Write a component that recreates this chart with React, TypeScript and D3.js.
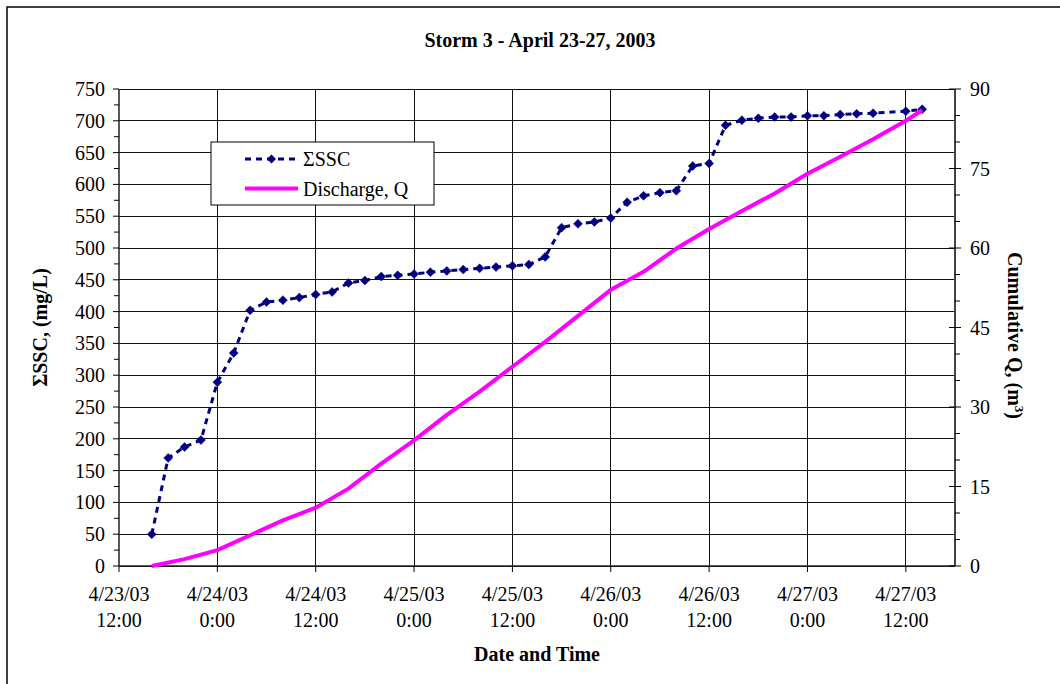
import React from "react";
import * as d3 from "d3";

// ---- Data ----
const sscTimes: string[] = [
  "2003-04-23 16:00", "2003-04-23 18:00", "2003-04-23 20:00", "2003-04-23 22:00",
  "2003-04-24 00:00", "2003-04-24 02:00", "2003-04-24 04:00", "2003-04-24 06:00",
  "2003-04-24 08:00", "2003-04-24 10:00", "2003-04-24 12:00", "2003-04-24 14:00",
  "2003-04-24 16:00", "2003-04-24 18:00", "2003-04-24 20:00", "2003-04-24 22:00",
  "2003-04-25 00:00", "2003-04-25 02:00", "2003-04-25 04:00", "2003-04-25 06:00",
  "2003-04-25 08:00", "2003-04-25 10:00", "2003-04-25 12:00", "2003-04-25 14:00",
  "2003-04-25 16:00", "2003-04-25 18:00", "2003-04-25 20:00", "2003-04-25 22:00",
  "2003-04-26 00:00", "2003-04-26 02:00", "2003-04-26 04:00", "2003-04-26 06:00",
  "2003-04-26 08:00", "2003-04-26 10:00", "2003-04-26 12:00", "2003-04-26 14:00",
  "2003-04-26 16:00", "2003-04-26 18:00", "2003-04-26 20:00", "2003-04-26 22:00",
  "2003-04-27 00:00", "2003-04-27 02:00", "2003-04-27 04:00", "2003-04-27 06:00",
  "2003-04-27 08:00", "2003-04-27 12:00", "2003-04-27 14:00",
];
const sscValues: number[] = [
  50, 170, 187, 198,
  289, 335, 402, 415, 418, 422, 427, 431, 445, 449, 455, 457,
  459, 462, 464, 466, 468, 470, 472, 474, 486, 532, 538, 541,
  547, 572, 582, 587, 590, 629, 633, 693, 701, 704, 706, 706,
  708, 708, 710, 711, 712, 715, 718,
];

const qTimes: string[] = [
  "2003-04-23 16:00", "2003-04-23 20:00",
  "2003-04-24 00:00", "2003-04-24 04:00", "2003-04-24 08:00", "2003-04-24 12:00", "2003-04-24 16:00", "2003-04-24 20:00",
  "2003-04-25 00:00", "2003-04-25 04:00", "2003-04-25 08:00", "2003-04-25 12:00", "2003-04-25 16:00", "2003-04-25 20:00",
  "2003-04-26 00:00", "2003-04-26 04:00", "2003-04-26 08:00", "2003-04-26 12:00", "2003-04-26 16:00", "2003-04-26 20:00",
  "2003-04-27 00:00", "2003-04-27 04:00", "2003-04-27 08:00", "2003-04-27 12:00", "2003-04-27 14:00",
];
const qValues: number[] = [
  0, 1.3,
  3.0, 5.8, 8.6, 11.0, 14.6, 19.3,
  23.7, 28.5, 32.9, 37.6, 42.3, 47.2,
  52.1, 55.5, 59.9, 63.6, 67.0, 70.3,
  74.0, 77.2, 80.5, 84.0, 86.0,
];

const xDomain: string[] = ["2003-04-23 12:00", "2003-04-27 18:00"];
const xTickTimes: string[] = [
  "2003-04-23 12:00", "2003-04-24 00:00", "2003-04-24 12:00", "2003-04-25 00:00",
  "2003-04-25 12:00", "2003-04-26 00:00", "2003-04-26 12:00", "2003-04-27 00:00",
  "2003-04-27 12:00",
];
const leftTicks: number[] = [0, 50, 100, 150, 200, 250, 300, 350, 400, 450, 500, 550, 600, 650, 700, 750];
const rightTicks: number[] = [0, 15, 30, 45, 60, 75, 90];

const title = "Storm 3 - April 23-27, 2003";
const xTitle = "Date and Time";
const yTitle = "ΣSSC, (mg/L)";
const y2Title = "Cumulative Q, (m";
const legendLabels: string[] = ["ΣSSC", "Discharge, Q"];

// ---- Layout ----
const W = 1060;
const H = 684;
const L = 119;
const R = 955;
const T = 89;
const B = 566;
const FONT = "'Liberation Serif', 'Times New Roman', serif";
const NAVY = "#000080";
const PINK = "#FF00FF";

const parse = d3.timeParse("%Y-%m-%d %H:%M");

export default function App() {
  const x = d3.scaleTime().domain(xDomain.map((s) => parse(s) as Date)).range([L, R]);
  const y = d3.scaleLinear().domain([0, 750]).range([B, T]);
  const y2 = d3.scaleLinear().domain([0, 90]).range([B, T]);

  const ssc = sscTimes.map((t, i) => ({ t: parse(t) as Date, v: sscValues[i] }));
  const q = qTimes.map((t, i) => ({ t: parse(t) as Date, v: qValues[i] }));

  const sscLine = d3.line<{ t: Date; v: number }>().x((d) => x(d.t)).y((d) => y(d.v));
  const qLine = d3.line<{ t: Date; v: number }>().x((d) => x(d.t)).y((d) => y2(d.v));

  const xTicks = xTickTimes.map((s) => parse(s) as Date);
  const fDate = d3.timeFormat("%-m/%d/%y");
  const fTime = d3.timeFormat("%-H:%M");

  const leftMinor = d3.range(25, 750, 50);
  const rightMinor = d3.range(0, 91, 5).filter((v) => v % 15 !== 0);

  const diamond = (cx: number, cy: number, r = 4.5) =>
    `M${cx},${cy - r}L${cx + r},${cy}L${cx},${cy + r}L${cx - r},${cy}Z`;

  const lgX1 = 245;
  const lgX2 = 298;
  const lgY1 = 159;
  const lgY2 = 188.5;

  return (
    <svg
      width={W}
      height={H}
      style={{ position: "absolute", left: 0, top: 0, background: "#fff", display: "block" }}
      fontFamily={FONT}
    >
      <rect x={0} y={0} width={W} height={H} fill="#fff" />
      {/* outer frame */}
      <rect x={7} y={7} width={W + 20} height={H + 20} fill="none" stroke="#000" strokeWidth={1.5} />

      {/* title */}
      <text x={540} y={47} textAnchor="middle" fontSize={20} fontWeight="bold">
        {title}
      </text>

      {/* horizontal gridlines */}
      {leftTicks.map((v) => (
        <line key={"hg" + v} x1={L} x2={R} y1={y(v)} y2={y(v)} stroke="#111" strokeWidth={1} shapeRendering="crispEdges" />
      ))}
      {/* vertical gridlines */}
      {xTicks.slice(1).map((d, i) => (
        <line key={"vg" + i} x1={x(d)} x2={x(d)} y1={T} y2={B} stroke="#111" strokeWidth={1} shapeRendering="crispEdges" />
      ))}

      {/* axes */}
      <line x1={L} x2={L} y1={T} y2={B} stroke="#222" strokeWidth={1.5} />
      <line x1={R} x2={R} y1={T} y2={B} stroke="#444" strokeWidth={2} />
      <line x1={L} x2={R} y1={B} y2={B} stroke="#222" strokeWidth={1.5} />

      {/* left ticks and labels */}
      {leftTicks.map((v) => (
        <g key={"lt" + v}>
          <line x1={L - 6} x2={L} y1={y(v)} y2={y(v)} stroke="#000" strokeWidth={1} />
          <text x={L - 14} y={y(v)} dy="0.35em" textAnchor="end" fontSize={20}>
            {v}
          </text>
        </g>
      ))}
      {leftMinor.map((v) => (
        <line key={"lm" + v} x1={L - 5} x2={L} y1={y(v)} y2={y(v)} stroke="#000" strokeWidth={1} />
      ))}

      {/* right ticks and labels */}
      {rightTicks.map((v) => (
        <g key={"rt" + v}>
          <line x1={R - 6} x2={R + 6} y1={y2(v)} y2={y2(v)} stroke="#000" strokeWidth={1} />
          <text x={R + 15} y={y2(v)} dy="0.35em" textAnchor="start" fontSize={20}>
            {v}
          </text>
        </g>
      ))}
      {rightMinor.map((v) => (
        <line key={"rm" + v} x1={R} x2={R + 5} y1={y2(v)} y2={y2(v)} stroke="#000" strokeWidth={1} />
      ))}

      {/* bottom ticks and labels */}
      {xTicks.map((d, i) => (
        <g key={"bt" + i}>
          <line x1={x(d)} x2={x(d)} y1={B} y2={B + 6} stroke="#000" strokeWidth={1} />
          <text x={x(d)} y={594} dy="0.35em" textAnchor="middle" fontSize={20}>
            {fDate(d)}
          </text>
          <text x={x(d)} y={620} dy="0.35em" textAnchor="middle" fontSize={20}>
            {fTime(d)}
          </text>
        </g>
      ))}

      {/* axis titles */}
      <text x={537} y={654} dy="0.35em" textAnchor="middle" fontSize={20} fontWeight="bold">
        {xTitle}
      </text>
      <text
        transform={`translate(40,${(T + B) / 2}) rotate(-90)`}
        dy="0.35em"
        textAnchor="middle"
        fontSize={20}
        fontWeight="bold"
      >
        {yTitle}
      </text>
      <text
        transform={`translate(1015,${(T + B) / 2 + 8}) rotate(90)`}
        dy="0.35em"
        textAnchor="middle"
        fontSize={20}
        fontWeight="bold"
      >
        {y2Title}
        <tspan fontSize={13} dy="-7">3</tspan>
        <tspan dy="7">)</tspan>
      </text>

      {/* SSC series */}
      <path d={sscLine(ssc) || ""} fill="none" stroke={NAVY} strokeWidth={3} strokeDasharray="6,5" />
      {ssc.map((d, i) => (
        <path key={"m" + i} d={diamond(x(d.t), y(d.v))} fill={NAVY} stroke={NAVY} strokeWidth={0.5} />
      ))}

      {/* Discharge series */}
      <path d={qLine(q) || ""} fill="none" stroke={PINK} strokeWidth={4} strokeLinejoin="round" />

      {/* legend */}
      <rect x={211} y={142} width={223} height={63} fill="#fff" stroke="#000" strokeWidth={1} />
      <line x1={lgX1} x2={lgX2} y1={lgY1} y2={lgY1} stroke={NAVY} strokeWidth={3} strokeDasharray="6,5" />
      <path d={diamond((lgX1 + lgX2) / 2, lgY1)} fill={NAVY} />
      <text x={303} y={lgY1} dy="0.35em" fontSize={20}>
        {legendLabels[0]}
      </text>
      <line x1={lgX1} x2={lgX2} y1={lgY2} y2={lgY2} stroke={PINK} strokeWidth={4} />
      <text x={303} y={lgY2} dy="0.35em" fontSize={20}>
        {legendLabels[1]}
      </text>
    </svg>
  );
}
